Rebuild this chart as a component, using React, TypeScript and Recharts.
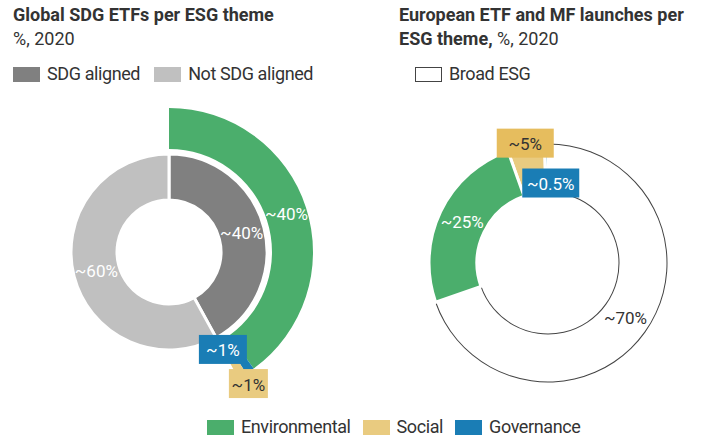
import { Cell, Pie, PieChart } from 'recharts'

document.body.style.margin = '0'

// left chart: inner ring (SDG alignment) and outer ring (ESG theme of the aligned part)
const alignment = ['SDG aligned', 'Not SDG aligned']
const alignmentValues = [42, 58]
const alignmentLabels = ['~40%', '~60%']

const sdgThemes = ['Environmental', 'Governance', 'Social', 'rest']
const sdgThemeValues = [40, 1, 1, 58]
const sdgThemeLabels = ['~40%', '~1%', '~1%', '']

// right chart, counter-clockwise from 12 o'clock
const launchThemes = ['Governance', 'Social', 'Environmental', 'Broad ESG']
const launchValues = [0.5, 5, 25, 70]
const launchLabels = ['~0.5%', '~5%', '~25%', '~70%']

const bottomLegend = ['Environmental', 'Social', 'Governance']

const FONT = 'Roboto, "Noto Sans", sans-serif'
const TEXT = '#333333'
const COLORS: Record<string, string> = {
  'SDG aligned': '#808080',
  'Not SDG aligned': '#c0c0c0',
  Environmental: '#4bae6c',
  Social: '#e9cb80',
  Governance: '#1a7db5',
  'Broad ESG': '#ffffff',
  rest: 'transparent',
}

const alignmentData = alignment.map((name, i) => ({ name, value: alignmentValues[i] }))
const sdgThemeData = sdgThemes.map((name, i) => ({ name, value: sdgThemeValues[i] }))
const launchData = launchThemes.map((name, i) => ({ name, value: launchValues[i] }))

const RADIAN = Math.PI / 180
function at(cx: number, cy: number, r: number, angle: number) {
  return { x: cx + r * Math.cos(-angle * RADIAN), y: cy + r * Math.sin(-angle * RADIAN) }
}

function Tag({ x, y, w, text, fill, color }: { x: number; y: number; w: number; text: string; fill: string; color: string }) {
  return (
    <g>
      <rect x={x - w / 2} y={y - 14.5} width={w} height={29} fill={fill} />
      <text x={x} y={y + 1} fill={color} fontSize={17} fontFamily={FONT} textAnchor="middle" dominantBaseline="central">
        {text}
      </text>
    </g>
  )
}

function SliceText({ x, y, text, color }: { x: number; y: number; text: string; color: string }) {
  return (
    <text x={x} y={y} fill={color} fontSize={17} fontFamily={FONT} textAnchor="middle" dominantBaseline="central">
      {text}
    </text>
  )
}

function alignmentLabel(p: any) {
  const mid = at(p.cx, p.cy, (p.innerRadius + p.outerRadius) / 2, p.midAngle)
  return <SliceText x={mid.x} y={mid.y} text={alignmentLabels[p.index]} color="#ffffff" />
}

function sdgThemeLabel(p: any) {
  if (p.index === 0) {
    const mid = at(p.cx, p.cy, (p.innerRadius + p.outerRadius) / 2, p.midAngle)
    return <SliceText x={mid.x} y={mid.y} text={sdgThemeLabels[0]} color="#ffffff" />
  }
  if (p.index === 1) {
    const pt = at(p.cx, p.cy, 119, p.midAngle)
    return <Tag x={pt.x - 13} y={pt.y - 1} w={48} text={sdgThemeLabels[1]} fill={COLORS.Governance} color="#ffffff" />
  }
  if (p.index === 2) {
    const pt = at(p.cx, p.cy, 154, p.midAngle)
    return <Tag x={pt.x + 1} y={pt.y - 1} w={39} text={sdgThemeLabels[2]} fill={COLORS.Social} color={TEXT} />
  }
  return <g />
}

function launchLabel(p: any) {
  if (p.index === 0) {
    const pt = at(p.cx, p.cy, 80, p.midAngle)
    return <Tag x={pt.x + 4} y={pt.y} w={57} text={launchLabels[0]} fill={COLORS.Governance} color="#ffffff" />
  }
  if (p.index === 1) {
    const pt = at(p.cx, p.cy, 122, p.midAngle)
    return <Tag x={pt.x} y={pt.y} w={57} text={launchLabels[1]} fill="#e6bd5e" color={TEXT} />
  }
  const mid = at(p.cx, p.cy, (p.innerRadius + p.outerRadius) / 2, p.midAngle)
  return <SliceText x={mid.x} y={mid.y} text={launchLabels[p.index]} color={p.index === 2 ? '#ffffff' : TEXT} />
}

function Swatch({ color, outline }: { color: string; outline?: boolean }) {
  return (
    <span
      style={{
        display: 'inline-block',
        width: 27,
        height: 15,
        background: color,
        boxSizing: 'border-box',
        border: outline ? '1px solid #444' : 'none',
        marginRight: 7,
      }}
    />
  )
}

function LegendRow({ items, left, top, gap }: { items: string[]; left: number; top: number; gap: number }) {
  return (
    <div
      style={{
        position: 'absolute',
        left,
        top,
        display: 'flex',
        alignItems: 'center',
        fontSize: 18,
        lineHeight: '20px',
        letterSpacing: -0.4,
        color: TEXT,
      }}
    >
      {items.map((name) => (
        <span key={name} style={{ display: 'flex', alignItems: 'center', marginRight: gap }}>
          <Swatch color={COLORS[name]} outline={name === 'Broad ESG'} />
          {name}
        </span>
      ))}
    </div>
  )
}

export default function App() {
  return (
    <div style={{ position: 'relative', width: 707, height: 436, fontFamily: FONT, color: TEXT, background: '#fff', overflow: 'hidden' }}>
      <div style={{ position: 'absolute', left: 13, top: 3, fontSize: 18, lineHeight: '24px' }}>
        <div style={{ fontWeight: 700 }}>Global SDG ETFs per ESG theme</div>
        <div>%, 2020</div>
      </div>
      <div style={{ position: 'absolute', left: 399, top: 3, fontSize: 18, lineHeight: '24px' }}>
        <div style={{ fontWeight: 700 }}>European ETF and MF launches per</div>
        <div>
          <span style={{ fontWeight: 700 }}>ESG theme,</span> %, 2020
        </div>
      </div>
      <LegendRow items={alignment} left={13} top={64} gap={14} />
      <LegendRow items={['Broad ESG']} left={415} top={64} gap={0} />

      <PieChart width={707} height={436} margin={{ top: 0, right: 0, bottom: 0, left: 0 }} style={{ position: 'absolute', left: 0, top: 0 }}>
        <Pie
          data={alignmentData}
          dataKey="value"
          cx={169}
          cy={252}
          innerRadius={52}
          outerRadius={98}
          startAngle={90}
          endAngle={-270}
          stroke="#ffffff"
          strokeWidth={3}
          label={alignmentLabel}
          labelLine={false}
          isAnimationActive={false}
        >
          {alignmentData.map((d) => (
            <Cell key={d.name} fill={COLORS[d.name]} />
          ))}
        </Pie>
        <Pie
          data={sdgThemeData}
          dataKey="value"
          cx={169}
          cy={252}
          innerRadius={103}
          outerRadius={144}
          startAngle={90}
          endAngle={-270}
          stroke="none"
          label={sdgThemeLabel}
          labelLine={false}
          isAnimationActive={false}
        >
          {sdgThemeData.map((d) => (
            <Cell key={d.name} fill={COLORS[d.name]} />
          ))}
        </Pie>

        {/* thin arcs that outline the Broad ESG slice */}
        <Pie
          data={launchData}
          dataKey="value"
          cx={548}
          cy={263}
          innerRadius={118.5}
          outerRadius={119.5}
          startAngle={90}
          endAngle={450}
          stroke="none"
          isAnimationActive={false}
        >
          {launchData.map((d) => (
            <Cell key={d.name} fill={d.name === 'Broad ESG' ? '#444' : 'transparent'} />
          ))}
        </Pie>
        <Pie
          data={launchData}
          dataKey="value"
          cx={548}
          cy={263}
          innerRadius={70.5}
          outerRadius={71.5}
          startAngle={90}
          endAngle={450}
          stroke="none"
          isAnimationActive={false}
        >
          {launchData.map((d) => (
            <Cell key={d.name} fill={d.name === 'Broad ESG' ? '#444' : 'transparent'} />
          ))}
        </Pie>
        <Pie
          data={launchData}
          dataKey="value"
          cx={548}
          cy={263}
          innerRadius={71}
          outerRadius={119}
          startAngle={90}
          endAngle={450}
          label={launchLabel}
          labelLine={false}
          isAnimationActive={false}
        >
          {launchData.map((d) => (
            <Cell
              key={d.name}
              fill={d.name === 'Broad ESG' ? 'transparent' : COLORS[d.name]}
              stroke={d.name === 'Broad ESG' ? 'none' : '#ffffff'}
              strokeWidth={3}
            />
          ))}
        </Pie>
      </PieChart>

      <LegendRow items={bottomLegend} left={207} top={417} gap={12} />
    </div>
  )
}
